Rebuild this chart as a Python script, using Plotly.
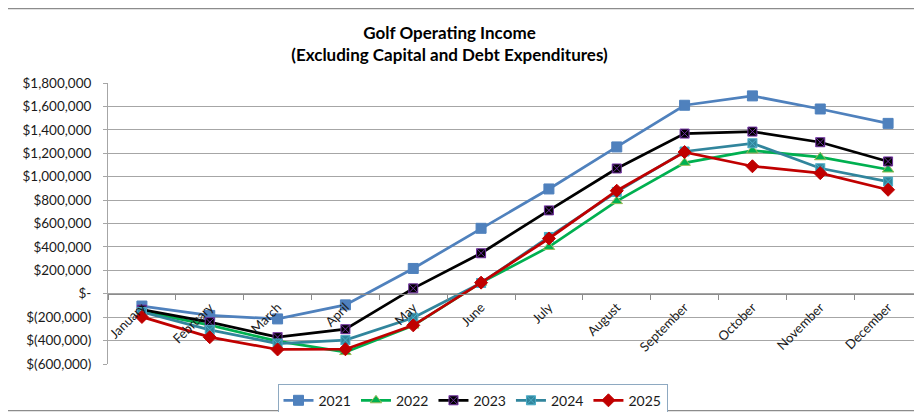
import plotly.graph_objects as go

months = ["January", "February", "March", "April", "May", "June", "July",
          "August", "September", "October", "November", "December"]

y2021 = [-105000, -185000, -215000, -95000, 216000, 559000, 895000, 1254000, 1610000, 1690000, 1578000, 1455000]
y2022 = [-150000, -268000, -405000, -498000, -272000, 95000, 400000, 791000, 1118000, 1223000, 1166000, 1061000]
y2023 = [-136000, -243000, -371000, -303000, 46000, 346000, 712000, 1070000, 1368000, 1385000, 1294000, 1130000]
y2024 = [-155000, -308000, -425000, -396000, -205000, 92000, 485000, 870000, 1215000, 1285000, 1072000, 958000]
y2025 = [-198000, -371000, -476000, -474000, -270000, 95000, 472000, 880000, 1210000, 1089000, 1030000, 888000]

tick_vals = [-600000, -400000, -200000, 0, 200000, 400000, 600000, 800000,
             1000000, 1200000, 1400000, 1600000, 1800000]
tick_text = ["$(600,000)", "$(400,000)", "$(200,000)", "$-", "$200,000", "$400,000",
             "$600,000", "$800,000", "$1,000,000", "$1,200,000", "$1,400,000",
             "$1,600,000", "$1,800,000"]

FONT = "Lato"
OFF = 8  # page body margin offset

series = [
    ("2021", y2021, "#4F81BD", "square", "#4F81BD", 10),
    ("2022", y2022, "#00B050", "triangle-up", "#9BBB59", 10),
    ("2023", y2023, "#000000", "square-x", "#7030A0", 9),
    ("2024", y2024, "#31859C", "square-x", "#4BACC6", 9),
    ("2025", y2025, "#C00000", "diamond", "#C00000", 10),
]

fig = go.Figure()
for name, ys, col, sym, lcol, sz in series:
    fig.add_trace(go.Scatter(
        x=months, y=ys, name=name, mode="lines+markers",
        line=dict(color=col, width=2.75),
        marker=dict(symbol=sym, size=sz, color=col, line=dict(color=lcol, width=1)),
    ))

fig.update_layout(
    width=922, height=412,
    margin=dict(l=108 - OFF, r=OFF, t=83.3 - OFF, b=412 - (364.3 - OFF), autoexpand=False),
    paper_bgcolor="white", plot_bgcolor="white",
    font=dict(family=FONT, size=13, color="#1a1a1a"),
    title=dict(
        text="<b>Golf Operating Income<br>(Excluding Capital and Debt Expenditures)</b>",
        x=(449.5 - OFF) / 922, xanchor="center", xref="container",
        y=1 - 31 / 412, yanchor="top", yref="container",
        font=dict(family=FONT, size=17, color="#000000"),
    ),
    xaxis=dict(
        type="category", range=[-0.5, 11.5],
        anchor="free", position=0.25,
        showline=True, linecolor="#8C8C8C", linewidth=1,
        ticks="outside", ticklen=5, tickcolor="#8C8C8C", tickson="boundaries",
        tickangle=-45, showgrid=False, zeroline=False,
        tickfont=dict(family=FONT, size=13, color="#1a1a1a"),
    ),
    yaxis=dict(
        range=[-600000, 1800000],
        tickvals=tick_vals, ticktext=tick_text,
        showgrid=True, gridcolor="#A6A6A6", gridwidth=1,
        showline=True, linecolor="#A6A6A6", linewidth=1,
        ticks="outside", ticklen=4, tickcolor="#A6A6A6",
        ticklabelstandoff=9,
        zeroline=False,
        tickfont=dict(family=FONT, size=13.5, color="#1a1a1a"),
    ),
    legend=dict(
        orientation="h", x=(472.5 - 108) / 814, xanchor="center",
        y=(364.3 - 384) / 281, yanchor="top",
        bordercolor="#8EA9C1", borderwidth=1,
        font=dict(family=FONT, size=14, color="#1a1a1a"),
        itemwidth=30,
    ),
    shapes=[dict(
        type="rect", xref="paper", yref="paper",
        x0=(6 - 108) / 814, x1=(930 - 108) / 814,
        y0=(364.3 - 411) / 281, y1=(364.3 - 9) / 281,
        line=dict(color="#8C8C8C", width=1.2), fillcolor="rgba(0,0,0,0)",
        layer="below",
    )],
)

fig.write_html("out.html")
